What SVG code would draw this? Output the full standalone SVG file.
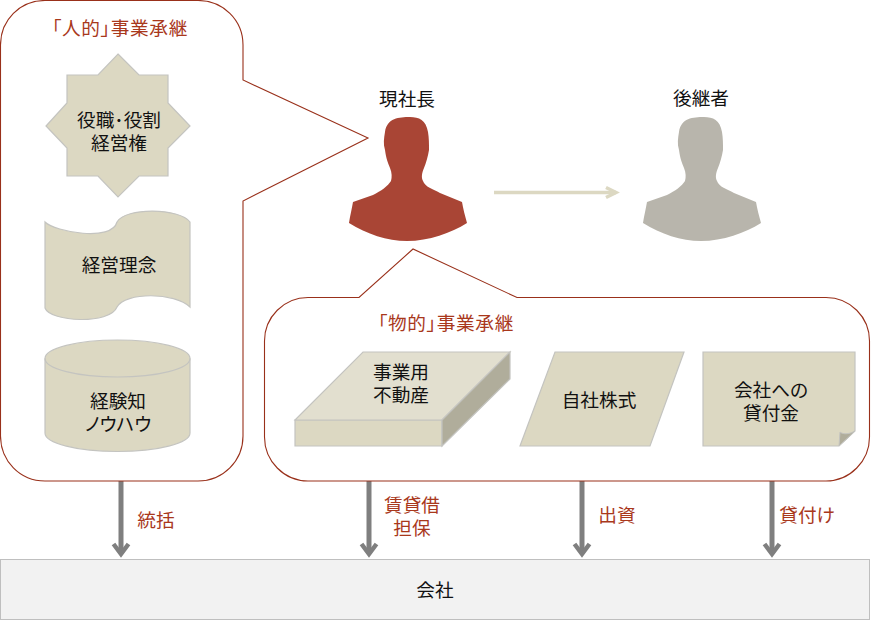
<svg xmlns="http://www.w3.org/2000/svg" width="884" height="620" viewBox="0 0 884 620">
<defs>
<style>
text{font-family:"Noto Sans CJK JP","Liberation Sans",sans-serif;font-size:18.67px;fill:#111;text-anchor:middle;font-feature-settings:"palt"}
text.r{fill:#a9381c}
text.t{letter-spacing:.7px}
.s{fill:#dcd8c2;stroke:#c4c4c0;stroke-width:1.2}
.b{fill:#fff;stroke:#99301a;stroke-width:1.1}
.c{fill:none;stroke:#7f7f7f;stroke-width:5}
</style>
<marker id="ah" markerUnits="userSpaceOnUse" markerWidth="24" markerHeight="24" refX="12" refY="12" orient="auto"><path d="M2 4.500 12 12 2 19.500" fill="none" stroke="#7f7f7f" stroke-width="4.500"/></marker>
<marker id="ah2" markerUnits="userSpaceOnUse" markerWidth="24" markerHeight="24" refX="12" refY="12" orient="auto"><path d="M2 7 12 12 2 17" fill="none" stroke="#dcd8c2" stroke-width="3.500"/></marker>
<path id="person" d="M3 -63C-8 -63-20 -62-22 -48-23 -42-24 -36-22 -30-21 -22-19 -17-17 -12-15 -7-15 -3-16 1-19 6-26 11-34 15L-54 22C-55 28-57 36-58 43-40 54-20 61 0 61 22 61 44 53 60 43 58 36 56 28 55 22L33 13C26 9 18 7 16 1 14 -3 15 -7 17 -12 19 -17 21 -24 22 -30 22 -36 22 -42 21 -48 19 -60 12 -63 3 -63Z"/>
</defs>
<rect width="884" height="620" fill="#fff"/>
<g id="connectors">
<path class="c" marker-end="url(#ah)" d="M121 481V554"/>
<path class="c" marker-end="url(#ah)" d="M369 481V554"/>
<path class="c" marker-end="url(#ah)" d="M582 481V554"/>
<path class="c" marker-end="url(#ah)" d="M772 481V554"/>
<path d="M494 192.500H616" fill="none" stroke="#dcd8c2" stroke-width="3.500" marker-end="url(#ah2)"/>
</g>
<g id="human-box">
<path class="b" d="M45 0.500H198C223 0.500 243 20 243 45V80L368 138 243 201V436C243 461 223 481 198 481H45C20 481 0.500 461 0.500 436V45C0.500 20 20 0.500 45 0.500Z"/>
<text x="120" y="35" class="r t">「人的」事業承継</text>
</g>
<g id="asset-box">
<path class="b" d="M308 297.500H359L413 249 517 297.500H826C850 297.500 869.500 317 869.500 341V437C869.500 461 850 481 826 481H308C284 481 264.500 461 264.500 437V341C264.500 317 284 297.500 308 297.500Z"/>
<text x="446" y="330" class="r t">「物的」事業承継</text>
</g>
<g id="star">
<path class="s" d="M118 54 139 75H168V103L190 126 168 148V176H139L118 197 98 176H67V148L46 126 67 103V75H98Z"/>
<text x="119" y="127">役職･役割<tspan x="119" dy="23">経営権</tspan></text>
</g>
<g id="rinen">
<path class="s" d="M45 222C55 232 112 242 117 222 125 207 180 208 190 222V307C175 292 125 292 117 307 110 325 50 322 45 308Z"/>
<text x="119" y="272">経営理念</text>
</g>
<g id="keiken">
<path class="s" d="M45 358.500A72.500 18.500 0 0 1 190 358.500V433A72.500 18.500 0 0 1 45 433Z"/>
<path d="M45 358.500A72.500 18.500 0 0 0 190 358.500" fill="none" stroke="#c4c4c0" stroke-width="1.200"/>
<text x="118" y="408">経験知<tspan x="118" dy="23">ノウハウ</tspan></text>
</g>
<g id="genshacho">
<text x="407" y="106">現社長</text>
<use href="#person" x="407" y="180" fill="#a94535"/>
</g>
<g id="koukeisha">
<text x="701" y="105">後継者</text>
<use href="#person" x="701" y="180" fill="#b8b5ac"/>
</g>
<g id="fudosan">
<path class="s" d="M295 420H442V446H295Z"/>
<path class="s" d="M295 420 363 352H510L442 420Z" style="fill:#e2dfcf"/>
<path class="s" d="M442 420 510 352V379L442 446Z" style="fill:#b0ad9b"/>
<text x="401" y="379">事業用<tspan x="401" dy="23">不動産</tspan></text>
</g>
<g id="kabushiki">
<path class="s" d="M555 352H684L650 446H520Z"/>
<text x="599" y="407">自社株式</text>
</g>
<g id="kashitsuke">
<path class="s" d="M703 352H855V431L839 446H703Z"/>
<path d="M855 431C848 435 842 434 840 432L839 446Z" fill="#b0ad9b" stroke="#c4c4c0"/>
<text x="771" y="397">会社への<tspan x="771" dy="23">貸付金</tspan></text>
</g>
<g id="kaisha">
<rect x="0.500" y="559.500" width="869" height="60" fill="#f2f2f2" stroke="#bfbfbf"/>
<text x="435" y="597">会社</text>
</g>
<g id="labels">
<text x="156" y="527" class="r">統括</text>
<text x="412" y="512" class="r">賃貸借<tspan x="412" dy="23">担保</tspan></text>
<text x="617" y="522" class="r">出資</text>
<text x="807" y="522" class="r">貸付け</text>
</g>
</svg>
